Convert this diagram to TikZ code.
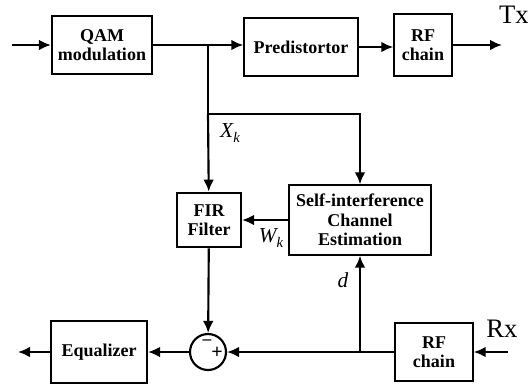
\documentclass[tikz,border=0pt]{standalone}
\usepackage{fontspec}
\setmainfont{Liberation Serif}
\usetikzlibrary{arrows.meta}
\tikzset{
  blk/.style={draw, line width=1.6pt, align=center, font=\bfseries\fontsize{13.5}{14.5}\selectfont, inner sep=1pt},
  sumnode/.style={draw, circle, line width=1.6pt, minimum size=27pt, inner sep=0pt},
  sig/.style={line width=1.6pt, -{Latex[length=9pt,width=8pt]}},
  wire/.style={line width=1.6pt},
  lbl/.style={font=\fontsize{16}{17}\selectfont\itshape},
  port/.style={font=\fontsize{20}{21}\selectfont}
}
\newcommand{\subk}[1]{#1\raisebox{-0.6ex}{\fontsize{11}{11}\selectfont k}}
\begin{document}
\begin{tikzpicture}[x=0.75pt, y=-0.75pt]
                \useasboundingbox (0,0) rectangle (528,386);
                %Nodes
                \node[blk, minimum width=75pt, minimum height=44pt] at (102,45) (qam) {QAM\\modulation};
                \node[blk, minimum width=85pt, minimum height=43pt] at (301,47) (pre) {Predistortor};
                \node[blk, minimum width=43pt, minimum height=46pt] at (423,45) (rftx) {RF\\chain};
                \node[blk, minimum width=48pt, minimum height=41pt] at (209,220) (fir) {FIR\\Filter};
                \node[blk, minimum width=106pt, minimum height=52pt] at (360,220) (sice) {Self-interference\\Channel\\Estimation};
                \node[sumnode] at (208,352) (sum) {};
                \node[font=\bfseries\fontsize{13}{13}\selectfont, inner sep=0pt] at (207,342) (minus) {--};
                \node[font=\bfseries\fontsize{15}{15}\selectfont, inner sep=0pt] at (217,353) (plus) {+};
                \node[blk, minimum width=72pt, minimum height=46pt] at (99,352) (eq) {Equalizer};
                \node[blk, minimum width=58pt, minimum height=43pt] at (434,352) (rfrx) {RF\\chain};
                \node[port] at (514,15) (tx) {Tx};
                \node[port] at (502,329) (rx) {Rx};
                \node[lbl] at (230,133) (xk) {\subk{X}};
                \node[lbl] at (271,238) (wk) {\subk{W}};
                \node[lbl] at (343,280) (dl) {d};
                \coordinate (in) at (12,45);
                \coordinate (out) at (502,45);
                \coordinate (split) at (208,45);
                \coordinate (tap) at (208,114);
                \coordinate (junc) at (360,352);
                \coordinate (rxin) at (508,352);
                \coordinate (eqout) at (18,352);

                %Lines
                \draw[sig] (in) -- (qam);
                \draw[sig] (qam.east) -- (qam.east -| pre.west);
                \draw[sig] (pre) -- (pre -| rftx.west);
                \draw[sig] (rftx) -- (out);
                \draw[wire] (split) -- (tap);
                \draw[sig] (tap) -- (fir);
                \draw[sig] (tap) -| (sice);
                \draw[sig] (sice) -- (fir);
                \draw[sig] (fir) -- (sum);
                \draw[sig] (rxin) -- (rfrx);
                \draw[sig] (rfrx) -- (sum);
                \draw[sig] (junc) -- (sice);
                \draw[sig] (sum) -- (eq);
                \draw[sig] (eq) -- (eqout);
            \end{tikzpicture}
\end{document}
